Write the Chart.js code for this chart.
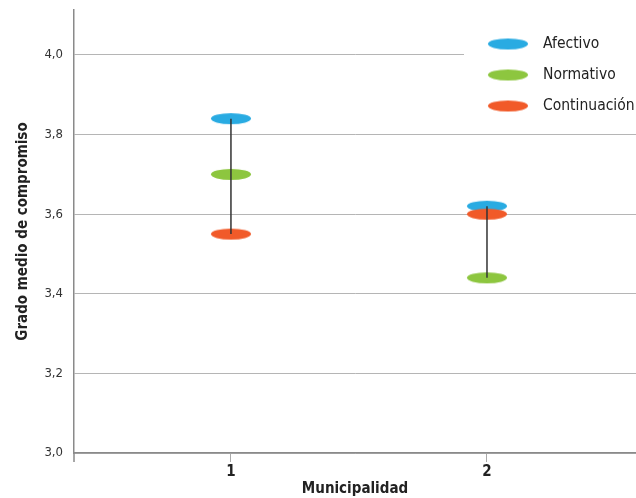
<!DOCTYPE html>
<html><head><meta charset="utf-8">
<script src="https://cdn.jsdelivr.net/npm/chart.js@4.4.1/dist/chart.umd.min.js"></script>
<style>html,body{margin:0;padding:0;background:#fff}#wrap{width:636px;height:498px}</style>
</head><body><div id="wrap"><canvas id="c" width="636" height="498"></canvas></div>
<script>
const categories = [1, 2];
const seriesNames = ['Afectivo', 'Normativo', 'Continuación'];
const afectivo = [3.84, 3.62];
const normativo = [3.70, 3.44];
const continuacion = [3.55, 3.60];
const yTicks = [3.0, 3.2, 3.4, 3.6, 3.8, 4.0];
const colors = ['#29abe2', '#8dc63f', '#f15a29'];

const FONT = '"Liberation Sans Narrow","DejaVu Sans Condensed","Roboto Condensed",sans-serif';

function ellipse(color) {
  const c = document.createElement('canvas');
  c.width = 42; c.height = 13;
  const x = c.getContext('2d');
  x.fillStyle = color;
  x.beginPath();
  x.ellipse(21, 6.5, 20, 5.5, 0, 0, Math.PI * 2);
  x.fill();
  return c;
}
const imgs = colors.map(ellipse);
const seriesValues = [afectivo, normativo, continuacion];

const datasets = seriesNames.map((n, i) => ({
  label: n,
  data: categories.map((c, j) => ({x: c, y: seriesValues[i][j]})),
  pointStyle: imgs[i],
  pointRadius: 5,
  backgroundColor: colors[i],
  borderColor: colors[i],
  clip: false,
  order: 3 - i
}));

const rangeLines = {
  id: 'rangeLines',
  afterDatasetsDraw(chart) {
    const {ctx, scales: {x, y}} = chart;
    ctx.save();
    ctx.strokeStyle = '#333';
    ctx.lineWidth = 1.5;
    categories.forEach((c, j) => {
      const vals = seriesValues.map(s => s[j]);
      const px = x.getPixelForValue(c);
      ctx.beginPath();
      ctx.moveTo(px, y.getPixelForValue(Math.max(...vals)));
      ctx.lineTo(px, y.getPixelForValue(Math.min(...vals)));
      ctx.stroke();
    });
    ctx.restore();
  }
};

const axisExtend = {
  id: 'axisExtend',
  afterDraw(chart) {
    const {ctx, chartArea} = chart;
    ctx.save();
    ctx.strokeStyle = '#8a8a8a';
    ctx.lineWidth = 1.5;
    ctx.beginPath();
    ctx.moveTo(chartArea.left, chartArea.bottom);
    ctx.lineTo(chartArea.left, chartArea.bottom + 9);
    ctx.stroke();
    ctx.restore();
  }
};

const customLegend = {
  id: 'customLegend',
  afterDraw(chart) {
    const ctx = chart.ctx;
    ctx.save();
    ctx.fillStyle = '#fff';
    ctx.fillRect(464, 30, 172, 90);
    ctx.font = '15.5px ' + FONT;
    ctx.textBaseline = 'middle';
    ctx.fillStyle = '#222';
    seriesNames.forEach((n, i) => {
      const yy = 44 + i * 31;
      ctx.drawImage(imgs[i], 508 - 21, yy - 6.5);
      ctx.fillText(n, 543, yy);
    });
    ctx.restore();
  }
};

new Chart(document.getElementById('c'), {
  type: 'scatter',
  data: {datasets},
  options: {
    responsive: false,
    animation: false,
    layout: {autoPadding: false, padding: {top: 10, right: 0, left: 0, bottom: 0}},
    plugins: {legend: {display: false}, tooltip: {enabled: false}},
    scales: {
      x: {
        type: 'linear', min: 0.387, max: 2.582,
        afterBuildTicks: s => { s.ticks = categories.map(v => ({value: v})); },
        afterFit: s => { s.height = 45; s.paddingLeft = 0; s.paddingRight = 0; },
        grid: {drawOnChartArea: false, drawTicks: true, tickLength: 9, color: '#aaa'},
        border: {color: '#8a8a8a', width: 1.5},
        ticks: {padding: 1, color: '#222', font: {family: FONT, size: 15, weight: 'bold'}, callback: v => String(v)},
        title: {display: true, text: 'Municipalidad', color: '#222', font: {family: FONT, size: 15, weight: 'bold'}, padding: {top: 0, bottom: 0}}
      },
      y: {
        min: 3.0, max: 4.113,
        afterBuildTicks: s => { s.ticks = yTicks.map(v => ({value: v})); },
        afterFit: s => { s.width = 74; s.paddingTop = 0; s.paddingBottom = 0; },
        grid: {color: '#b5b5b5', lineWidth: 1, drawTicks: false},
        border: {color: '#8a8a8a', width: 1.5},
        ticks: {padding: 11, color: '#333', font: {family: FONT, size: 13}, callback: v => v.toFixed(1).replace('.', ',')},
        title: {display: true, text: 'Grado medio de compromiso', color: '#222', font: {family: FONT, size: 15, weight: 'bold'}, padding: {top: 14, bottom: 0}}
      }
    }
  },
  plugins: [rangeLines, axisExtend, customLegend]
});
</script>
</body></html>
